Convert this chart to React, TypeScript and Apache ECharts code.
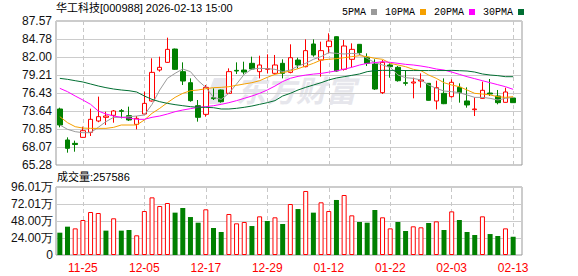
import React, { useEffect, useRef } from 'react';
import * as echarts from 'echarts';

const dates = [
  '11-20', '11-21', '11-24', '11-25', '11-26', '11-27', '11-28',
  '12-01', '12-02', '12-03', '12-04', '12-05', '12-08', '12-09', '12-10', '12-11', '12-12',
  '12-15', '12-16', '12-17', '12-18', '12-19', '12-22', '12-23', '12-24', '12-25', '12-26',
  '12-29', '12-30', '12-31',
  '01-05', '01-06', '01-07', '01-08', '01-09', '01-12', '01-13', '01-14', '01-15', '01-16',
  '01-19', '01-20', '01-21', '01-22', '01-23', '01-26', '01-27', '01-28', '01-29', '01-30',
  '02-02', '02-03', '02-04', '02-05', '02-06', '02-09', '02-10', '02-11', '02-12', '02-13',
];

const opens = [
  73.95, 69.15, 68.63, 69.56, 70.34, 72.09, 72.66, 72.97, 73.69, 72.92,
  71.57, 73.17, 75.19, 79.98, 81.17, 83.23, 79.73, 78.02, 74.46, 73.12,
  75.70, 76.89, 76.37, 79.93, 79.98, 81.02, 79.73, 80.09, 79.47, 81.02,
  79.62, 81.53, 80.50, 84.01, 81.53, 83.60, 85.14, 80.09, 81.64, 83.96,
  81.95, 80.91, 76.48, 80.76, 80.40, 78.02, 77.97, 78.28, 77.92, 75.19,
  76.37, 75.86, 77.30, 75.19, 73.84, 75.60, 76.42, 75.96, 74.98, 75.65,
];
const closes = [
  71.47, 67.86, 68.45, 70.59, 72.35, 72.76, 72.86, 73.64, 73.59, 72.25,
  72.50, 74.82, 79.62, 80.40, 83.18, 80.09, 78.28, 75.24, 72.66, 77.30,
  75.55, 75.08, 79.73, 79.83, 79.67, 80.14, 80.76, 80.19, 80.76, 79.47,
  81.89, 80.76, 82.98, 82.31, 82.98, 84.47, 79.83, 83.70, 83.18, 82.67,
  81.02, 77.04, 81.17, 80.50, 78.33, 77.92, 78.13, 78.44, 75.29, 77.25,
  74.77, 78.08, 76.48, 74.57, 73.95, 76.84, 76.27, 74.93, 76.58, 74.93,
];
const lows = [
  71.11, 67.19, 67.34, 69.51, 69.77, 71.90, 71.47, 71.83, 72.50, 72.09,
  70.80, 73.10, 75.10, 79.73, 81.10, 80.00, 77.66, 75.08, 71.99, 72.76,
  75.34, 74.93, 76.30, 79.37, 79.31, 79.98, 78.69, 79.47, 79.40, 78.69,
  79.47, 80.24, 80.40, 82.05, 78.95, 82.56, 79.73, 79.90, 80.40, 82.31,
  80.60, 76.89, 76.27, 78.80, 78.18, 77.56, 75.60, 77.25, 75.25, 73.89,
  74.70, 75.70, 74.93, 74.15, 72.86, 75.55, 75.96, 74.67, 74.95, 74.93,
];
const highs = [
  74.15, 69.56, 69.05, 71.21, 74.00, 75.86, 73.53, 73.79, 73.95, 74.31,
  72.86, 76.63, 81.79, 82.05, 84.99, 83.30, 81.17, 78.69, 75.34, 77.66,
  77.15, 76.95, 80.24, 81.17, 81.27, 82.05, 82.20, 82.41, 82.31, 81.64,
  83.96, 81.89, 84.73, 84.73, 84.37, 85.66, 85.20, 84.63, 84.11, 84.00,
  82.56, 81.64, 81.53, 81.02, 80.60, 79.98, 78.80, 79.47, 77.95, 78.33,
  78.69, 78.54, 77.92, 77.30, 75.75, 78.18, 78.59, 76.89, 77.25, 75.75,
];

// volume in 万股; 1 = red (up) bar, 0 = green (down) bar
const volumes = [
  31.5, 40.0, 37.6, 49.4, 60.7, 59.3, 34.4, 51.8, 34.4, 35.3,
  27.8, 62.1, 81.4, 69.2, 73.4, 59.8, 66.4, 53.6, 45.6, 64.5,
  38.1, 32.5, 57.9, 44.7, 46.6, 40.9, 54.6, 48.0, 53.2, 43.8,
  72.0, 64.9, 90.4, 59.8, 74.4, 62.1, 77.7, 84.7, 56.0, 46.6,
  45.6, 63.5, 53.2, 37.6, 46.6, 33.9, 40.5, 39.1, 45.2, 47.5,
  35.3, 61.6, 49.4, 32.5, 28.2, 54.6, 29.6, 26.8, 37.6, 25.76,
];
const volumeUp = [
  0, 0, 1, 1, 1, 1, 0, 1, 0, 0,
  1, 1, 1, 1, 1, 0, 0, 0, 0, 1,
  0, 0, 1, 1, 1, 0, 1, 0, 1, 0,
  1, 0, 1, 0, 1, 1, 0, 1, 1, 0,
  0, 0, 1, 1, 0, 0, 1, 1, 0, 1,
  0, 1, 0, 0, 0, 1, 0, 0, 1, 0,
];

const ma5 = [
  71.47, 70.80, 70.44, 70.28, 70.28, 71.11, 71.99, 72.66, 72.66, 72.76,
  72.86, 73.02, 74.67, 76.89, 78.69, 79.47, 80.14, 79.73, 78.33, 77.30,
  75.75, 75.44, 76.37, 77.82, 79.31, 80.14, 80.24, 80.19, 80.09, 79.73,
  79.98, 80.60, 81.02, 81.64, 82.05, 82.67, 82.56, 82.46, 82.56, 82.46,
  81.79, 81.12, 80.76, 80.40, 79.21, 78.80, 78.69, 78.44, 77.66, 77.15,
  76.73, 76.63, 76.48, 76.12, 75.75, 75.75, 75.60, 75.34, 75.60, 75.75,
];
const ma10 = [
  72.76, 71.83, 71.21, 71.00, 70.95, 70.95, 70.95, 71.11, 71.47, 71.47,
  71.47, 72.25, 73.28, 74.05, 74.93, 75.75, 76.37, 76.78, 76.89, 77.09,
  77.25, 77.30, 77.40, 77.61, 77.82, 78.02, 78.33, 78.85, 79.31, 79.57,
  79.83, 80.19, 80.60, 81.02, 81.53, 81.64, 81.74, 81.89, 82.05, 82.20,
  82.05, 81.79, 81.64, 81.02, 80.76, 80.50, 80.09, 79.88, 79.21, 78.69,
  78.02, 77.66, 77.40, 76.89, 76.37, 76.27, 76.12, 75.86, 75.75, 75.86,
];
const ma20 = [
  77.15, 76.63, 75.96, 75.34, 74.67, 73.64, 73.17, 72.86, 72.66, 72.55,
  72.35, 72.35, 72.66, 72.86, 73.17, 73.53, 73.79, 74.00, 74.21, 74.31,
  74.46, 74.67, 74.93, 75.24, 75.60, 75.96, 76.37, 76.89, 77.50, 78.20,
  78.70, 79.00, 79.20, 79.35, 79.45, 79.65, 79.85, 80.10, 80.40, 80.75,
  81.02, 81.12, 81.27, 81.17, 81.02, 80.86, 80.76, 80.60, 80.40, 80.14,
  79.98, 79.67, 79.31, 78.95, 78.64, 78.33, 78.02, 77.71, 77.40, 76.99,
];
const ma30 = [
  78.69, 78.54, 78.33, 78.13, 77.82, 77.51, 77.25, 77.04, 76.89, 76.78,
  76.58, 75.96, 75.44, 75.08, 74.82, 74.62, 74.46, 74.31, 74.21, 74.21,
  74.15, 73.95, 73.95, 74.05, 74.21, 74.41, 74.67, 74.93, 75.24, 75.96,
  76.37, 76.89, 77.30, 77.66, 78.02, 78.44, 78.75, 78.95, 79.16, 79.37,
  79.73, 79.88, 79.93, 79.93, 79.93, 79.90, 79.90, 79.90, 79.90, 79.90,
  79.90, 79.93, 79.88, 79.83, 79.67, 79.37, 79.21, 79.11, 78.95, 78.95,
];

const priceTicks = ['65.28', '68.07', '70.85', '73.64', '76.43', '79.21', '82.00', '84.78', '87.57'];
const volumeTicks = ['0', '24.00万', '48.00万', '72.01万', '96.01万'];
const volumeMax = 96.01;
const tickDates = ['11-25', '12-05', '12-17', '12-29', '01-12', '01-22', '02-03', '02-13'];
const titleText = '华工科技[000988] 2026-02-13 15:00';
const volumeTitle = '成交量:257586';
const maNames = ['5PMA', '10PMA', '20PMA', '30PMA'];
const maColors = ['#9a9a9a', '#f5a000', '#ff00ff', '#006e32'];

const UP = '#ff0000';
const DOWN = '#008000';

export default function App() {
  const ref = useRef<HTMLDivElement>(null);

  useEffect(() => {
    const chart = echarts.init(ref.current as HTMLDivElement, null, { renderer: 'svg' });

    const pMin = Number(priceTicks[0]);
    const pMax = Number(priceTicks[priceTicks.length - 1]);
    const pStep = (pMax - pMin) / (priceTicks.length - 1);
    const vStep = volumeMax / (volumeTicks.length - 1);

    const dashLine = {
      silent: true,
      symbol: ['none', 'none'],
      label: { show: false },
      lineStyle: { color: '#c8c8c8', type: [4, 3], width: 1 },
      emphasis: { disabled: true },
      data: tickDates.map((d) => ({ xAxis: d })),
      z: 0,
    };

    const labelFont = { fontFamily: 'Liberation Sans, Arial, sans-serif', fontSize: 12, color: '#111' };

    const mas = [ma5, ma10, ma20, ma30];

    const option: any = {
      animation: false,
      backgroundColor: '#ffffff',
      textStyle: { fontFamily: 'Liberation Sans, Noto Sans CJK SC, sans-serif' },
      legend: {
        data: maNames,
        left: 337,
        top: 2,
        align: 'right',
        icon: 'rect',
        itemWidth: 6,
        itemHeight: 6,
        itemGap: 8,
        selectedMode: false,
        textStyle: { fontFamily: 'Liberation Mono, monospace', fontSize: 10, color: '#000' },
      },
      graphic: [
        {
          type: 'text',
          left: 236,
          top: 74,
          z: -10,
          style: {
            text: '东方财富',
            fill: '#e6e6ec',
            font: 'italic bold 30px "Noto Sans CJK SC", sans-serif',
          },
        },
        {
          type: 'polygon',
          z: -10,
          shape: { points: [[214, 78], [234, 78], [222, 104], [204, 104]] },
          style: { fill: '#e6e6ec' },
        },
        {
          type: 'text',
          left: 56,
          top: 2,
          style: {
            text: titleText,
            fill: '#000',
            font: '11px "Liberation Sans", "Noto Sans CJK SC", sans-serif',
          },
        },
        {
          type: 'text',
          left: 57,
          top: 171,
          style: {
            text: volumeTitle,
            fill: '#000',
            font: '11px "Liberation Sans", "Noto Sans CJK SC", sans-serif',
          },
        },
      ],
      grid: [
        { left: 56, top: 21, width: 466, height: 144, show: true, borderColor: '#999', borderWidth: 1, backgroundColor: 'transparent' },
        { left: 56, top: 21, width: 461, height: 144 },
        { left: 56, top: 187, width: 466, height: 68, show: true, borderColor: '#999', borderWidth: 1, backgroundColor: 'transparent' },
        { left: 56, top: 187, width: 461, height: 68 },
      ],
      xAxis: [
        { gridIndex: 0, type: 'value', min: 0, max: 1, show: false },
        {
          gridIndex: 1, type: 'category', data: dates, boundaryGap: true,
          axisLine: { show: false }, axisTick: { show: false }, axisLabel: { show: false }, splitLine: { show: false },
        },
        { gridIndex: 2, type: 'value', min: 0, max: 1, show: false },
        {
          gridIndex: 3, type: 'category', data: dates, boundaryGap: true,
          axisLine: { show: false }, axisTick: { show: false }, splitLine: { show: false },
          axisLabel: {
            color: '#ff0000',
            fontFamily: 'Liberation Sans, Arial, sans-serif',
            fontSize: 12,
            margin: 7,
            interval: (_i: number, v: string) => tickDates.includes(v),
          },
        },
      ],
      yAxis: [
        {
          gridIndex: 0, type: 'value', min: pMin, max: pMax, interval: pStep,
          axisLine: { show: false }, axisTick: { show: false },
          axisLabel: { ...labelFont, margin: 4, formatter: (v: number) => priceTicks[Math.round((v - pMin) / pStep)] ?? '' },
          splitLine: { show: true, lineStyle: { color: '#cccccc', width: 1 } },
        },
        { gridIndex: 1, type: 'value', min: pMin, max: pMax, show: false },
        {
          gridIndex: 2, type: 'value', min: 0, max: volumeMax, interval: vStep,
          axisLine: { show: false }, axisTick: { show: false },
          axisLabel: { ...labelFont, margin: 3, formatter: (v: number) => volumeTicks[Math.round(v / vStep)] ?? '' },
          splitLine: { show: true, lineStyle: { color: '#cccccc', width: 1 } },
        },
        { gridIndex: 3, type: 'value', min: 0, max: volumeMax, show: false },
      ],
      series: [
        {
          type: 'candlestick',
          xAxisIndex: 1,
          yAxisIndex: 1,
          barWidth: 5,
          data: dates.map((_, i) => [opens[i], closes[i], lows[i], highs[i]]),
          itemStyle: {
            color: '#ffffff',
            color0: DOWN,
            borderColor: UP,
            borderColor0: DOWN,
            borderWidth: 1,
          },
          markLine: dashLine,
          z: 3,
        },
        ...mas.map((m, k) => ({
          name: maNames[k],
          type: 'line',
          xAxisIndex: 1,
          yAxisIndex: 1,
          data: m,
          showSymbol: false,
          symbol: 'none',
          silent: true,
          itemStyle: { color: maColors[k] },
          lineStyle: { color: maColors[k], width: 1 },
          z: 4,
        })),
        {
          type: 'bar',
          xAxisIndex: 3,
          yAxisIndex: 3,
          barWidth: 5,
          data: volumes.map((v, i) => ({
            value: v,
            itemStyle: volumeUp[i]
              ? { color: '#ffffff', borderColor: UP, borderWidth: 1 }
              : { color: DOWN, borderWidth: 0 },
          })),
          markLine: dashLine,
          z: 3,
        },
      ],
    };

    chart.setOption(option);
    return () => chart.dispose();
  }, []);

  return <div ref={ref} style={{ position: 'absolute', left: 0, top: 0, width: 578, height: 276 }} />;
}
